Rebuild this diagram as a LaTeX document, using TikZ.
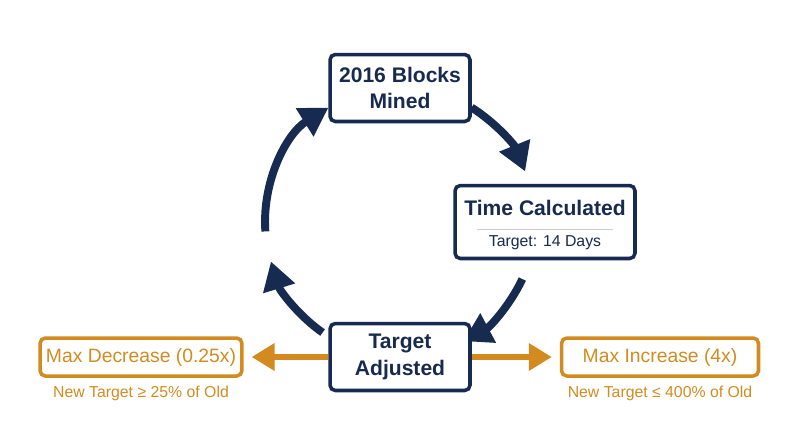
\documentclass[tikz,border=0pt]{standalone}
\usepackage{fontspec}
\setmainfont{Liberation Sans}
\usetikzlibrary{arrows.meta,calc}
\definecolor{navy}{HTML}{172A4F}
\definecolor{gold}{HTML}{D38B1F}
\begin{document}
\begin{tikzpicture}[x=0.02cm, y=-0.02cm,
		stage/.style = {draw=navy, line width=2pt, rounded corners=3pt, fill=white, text=navy, align=center, font=\bfseries\fontsize{12}{15}\selectfont},
		limit/.style = {draw=gold, line width=2pt, rounded corners=3pt, text=gold, minimum width=3.94cm, minimum height=0.76cm, font=\fontsize{11}{13}\selectfont},
		note/.style = {text=gold, font=\fontsize{9}{11}\selectfont},
		cyc/.style = {draw=navy, line width=4.5pt, -{Triangle[length=16pt,width=18pt]}},
		side/.style = {draw=gold, line width=3pt, -{Triangle[length=13pt,width=15pt]}}]
		\useasboundingbox (0,0) rectangle (800,447);
		\coordinate (c) at (400,222);
		
		% cycle arrows
		\draw[cyc] ($(c)+(58:2.7cm)$) arc[start angle=58, end angle=22, radius=2.7cm];
		\draw[cyc] ($(c)+(-25:2.7cm)$) arc[start angle=-25, end angle=-62, radius=2.7cm];
		\draw[cyc] ($(c)+(-125:2.7cm)$) arc[start angle=-125, end angle=-163, radius=2.7cm];
		\draw[cyc] ($(c)+(-176:2.7cm)$) arc[start angle=184, end angle=122, radius=2.7cm];
		
		\node[stage, minimum width=2.8cm, minimum height=1.34cm] (mined) at (400,88) {2016 Blocks\\Mined};
		\node[stage, minimum width=3.6cm, minimum height=1.46cm] (time) at (545,222) {};
		\node[text=navy, font=\bfseries\fontsize{12}{15}\selectfont] (tt) at (545,208) {Time Calculated};
		\draw[gray!40] (477,229) -- (613,229);
		\node[text=navy, font=\fontsize{9}{11}\selectfont] (td) at (545,243) {Target: 14 Days};
		\node[stage, minimum width=2.8cm, minimum height=1.34cm] (adj) at (400,357) {Target\\Adjusted};
		
		\node[limit] (dec) at (141,357) {Max Decrease (0.25x)};
		\node[limit] (inc) at (660,357) {Max Increase (4x)};
		\node[note] at (141,393) {New Target ≥ 25\% of Old};
		\node[note] at (660,393) {New Target ≤ 400\% of Old};
		
		\draw[side] (adj.west) -- ($(dec.east)+(8,0)$);
		\draw[side] (adj.east) -- ($(inc.west)+(-8,0)$);
	\end{tikzpicture}
\end{document}
